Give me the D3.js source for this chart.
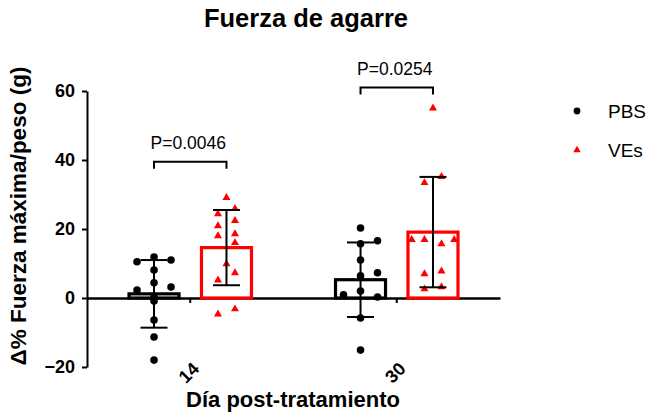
<!DOCTYPE html>
<html>
<head>
<meta charset="utf-8">
<script src="https://cdn.jsdelivr.net/npm/d3@7"></script>
<style>
  body { margin: 0; background: #fff; }
  text { font-family: "Liberation Sans", Arial, sans-serif; }
</style>
</head>
<body>
<div id="chart"></div>
<script>
// values
var days = ['14', '30']
var groups = ['PBS', 'VEs']
var groupColors = ['#000000', '#ff0000']

var means = { PBS: [1.2, 5.3], VEs: [14.6, 19.1] }
var sds = { PBS: [9.8, 10.8], VEs: [10.9, 16.0] }

var pbs14 = [11.9, 10.5, 11.0, 8.1, 4.4, 2.3, 3.2, 0.3, -0.9, -6.4, -11.3, -18.0]
var pbs14Col = [0, -2, 2, 0, 0, -2, 2, 0, 0, 0, 0, 0]
var ves14 = [29.1, 25.9, 24.4, 22.4, 20.9, 18.0, 18.6, 16.0, 9.9, 7.3, 5.2, -4.7, -3.2]
var ves14Col = [0, 1, -1, 1, -1, -1, 1, 1, 0, 1, -1, -1, 1]
var pbs30 = [20.3, 16.6, 15.7, 11.0, 7.3, 6.4, 2.0, 0.9, 0.3, -5.8, -15.1]
var pbs30Col = [0, 2, 0, 0, 2, 0, 0, -2, 2, 0, 0]
var ves30 = [55.0, 35.2, 33.4, 16.9, 16.9, 15.7, 16.9, 7.0, 7.8, 2.6, 3.2]
var ves30Col = [0, 1, -1, -2.5, -1, 1, 2.5, -1, 1, -1, 1]

var pLabels = ['P=0.0046', 'P=0.0254']
var bracketAt = [39.5, 61]
var yTicks = [-20, 0, 20, 40, 60]

var points = []
;[[pbs14, pbs14Col, '14', 'PBS'], [ves14, ves14Col, '14', 'VEs'],
  [pbs30, pbs30Col, '30', 'PBS'], [ves30, ves30Col, '30', 'VEs']].forEach(s => {
	s[0].forEach((v, i) => points.push({ day: s[2], group: s[3], value: v, col: s[1][i] }))
})

var bars = []
groups.forEach(gr => days.forEach((d, i) => bars.push({ day: d, group: gr, mean: means[gr][i], sd: sds[gr][i] })))

var W = 653, H = 417
var svg = d3.select('#chart').append('svg').attr('width', W).attr('height', H)

var x = d3.scaleBand().domain(days).range([87, 500])
var xIn = d3.scaleBand().domain(groups).range([0, x.bandwidth()]).paddingInner(0.25).paddingOuter(0.55)
var y = d3.scaleLinear().domain([-20, 60]).range([367, 91])
var col = d3.scaleLinear().domain([-1, 1]).range([-8.5, 8.5])
var color = d3.scaleOrdinal().domain(groups).range(groupColors)

var barW = 50
var cx = d => x(d.day) + xIn(d.group) + xIn.bandwidth() / 2

// y axis
var yAxis = svg.append('g').attr('transform', 'translate(87,0)')
	.call(d3.axisLeft(y).tickValues(yTicks).tickSize(5).tickPadding(7).tickSizeOuter(0))
yAxis.select('.domain').attr('stroke-width', 2)
yAxis.selectAll('.tick line').attr('stroke-width', 2)
yAxis.selectAll('text').attr('font-size', '18px').attr('font-weight', 'bold')
	.attr('font-family', '"Liberation Sans", Arial, sans-serif')

// zero line with centre ticks
var xAxis = svg.append('g').attr('transform', `translate(0,${y(0)})`)
	.call(d3.axisBottom(x).tickSize(5).tickSizeOuter(0).tickFormat(''))
xAxis.select('.domain').attr('stroke-width', 2.5)
xAxis.selectAll('.tick line').attr('stroke-width', 2)

svg.selectAll('.day-label').data(days).enter().append('text')
	.attr('class', 'day-label')
	.attr('transform', d => `translate(${x(d) + x.bandwidth() / 2 + 10}, 370) rotate(-45)`)
	.attr('text-anchor', 'end')
	.attr('font-size', '18px').attr('font-weight', 'bold')
	.text(d => d)

// bars
svg.selectAll('.bar').data(bars).enter().append('rect')
	.attr('class', 'bar')
	.attr('x', d => cx(d) - barW / 2)
	.attr('width', barW)
	.attr('y', d => y(Math.max(0, d.mean)))
	.attr('height', d => Math.abs(y(d.mean) - y(0)))
	.attr('fill', 'none')
	.attr('stroke', d => color(d.group))
	.attr('stroke-width', 3.2)

// points
var pts = svg.append('g')
pts.selectAll('circle').data(points.filter(d => d.group == 'PBS')).enter().append('circle')
	.attr('cx', d => cx(d) + col(d.col))
	.attr('cy', d => y(d.value))
	.attr('r', 3.8)
	.attr('fill', '#000')
pts.selectAll('path').data(points.filter(d => d.group == 'VEs')).enter().append('path')
	.attr('d', d3.symbol().type(d3.symbolTriangle).size(28))
	.attr('transform', d => `translate(${cx(d) + col(d.col)}, ${y(d.value)})`)
	.attr('fill', '#ff0000')

// error bars
var eb = svg.selectAll('.err').data(bars).enter().append('g').attr('class', 'err')
	.attr('stroke', '#000').attr('stroke-width', 2)
eb.append('line')
	.attr('x1', cx).attr('x2', cx)
	.attr('y1', d => y(d.mean + d.sd)).attr('y2', d => y(d.mean - d.sd))
eb.append('line')
	.attr('x1', d => cx(d) - 13.5).attr('x2', d => cx(d) + 13.5)
	.attr('y1', d => y(d.mean + d.sd)).attr('y2', d => y(d.mean + d.sd))
eb.append('line')
	.attr('x1', d => cx(d) - 13.5).attr('x2', d => cx(d) + 13.5)
	.attr('y1', d => y(d.mean - d.sd)).attr('y2', d => y(d.mean - d.sd))

// significance brackets
days.forEach((d, i) => {
	var x1 = x(d) + xIn('PBS') + xIn.bandwidth() / 2
	var x2 = x(d) + xIn('VEs') + xIn.bandwidth() / 2
	var yb = y(bracketAt[i])
	svg.append('path')
		.attr('d', `M${x1},${yb + 7}V${yb}H${x2}V${yb + 7}`)
		.attr('fill', 'none').attr('stroke', '#000').attr('stroke-width', 2)
	svg.append('text')
		.attr('x', (x1 + x2) / 2 - 2).attr('y', yb - 13)
		.attr('text-anchor', 'middle')
		.attr('font-size', '17.5px')
		.text(pLabels[i])
})

// titles
svg.append('text').attr('x', 306).attr('y', 27).attr('text-anchor', 'middle')
	.attr('font-size', '25.5px').attr('font-weight', 'bold').text('Fuerza de agarre')
svg.append('text').attr('x', 293).attr('y', 407).attr('text-anchor', 'middle')
	.attr('font-size', '22px').attr('font-weight', 'bold').text('Día post-tratamiento')
svg.append('text').attr('transform', 'translate(26,216) rotate(-90)').attr('text-anchor', 'middle')
	.attr('font-size', '22.5px').attr('font-weight', 'bold').text('Δ% Fuerza máxima/peso (g)')

// legend
var leg = svg.selectAll('.leg').data(groups).enter().append('g').attr('class', 'leg')
	.attr('transform', (d, i) => `translate(577, ${111 + i * 39})`)
leg.filter(d => d == 'PBS').append('circle').attr('r', 3.4).attr('fill', '#000')
leg.filter(d => d == 'VEs').append('path')
	.attr('d', d3.symbol().type(d3.symbolTriangle).size(24)).attr('fill', '#ff0000')
leg.append('text').attr('x', 31).attr('y', 7).attr('font-size', '19px').text(d => d)
</script>
</body>
</html>
